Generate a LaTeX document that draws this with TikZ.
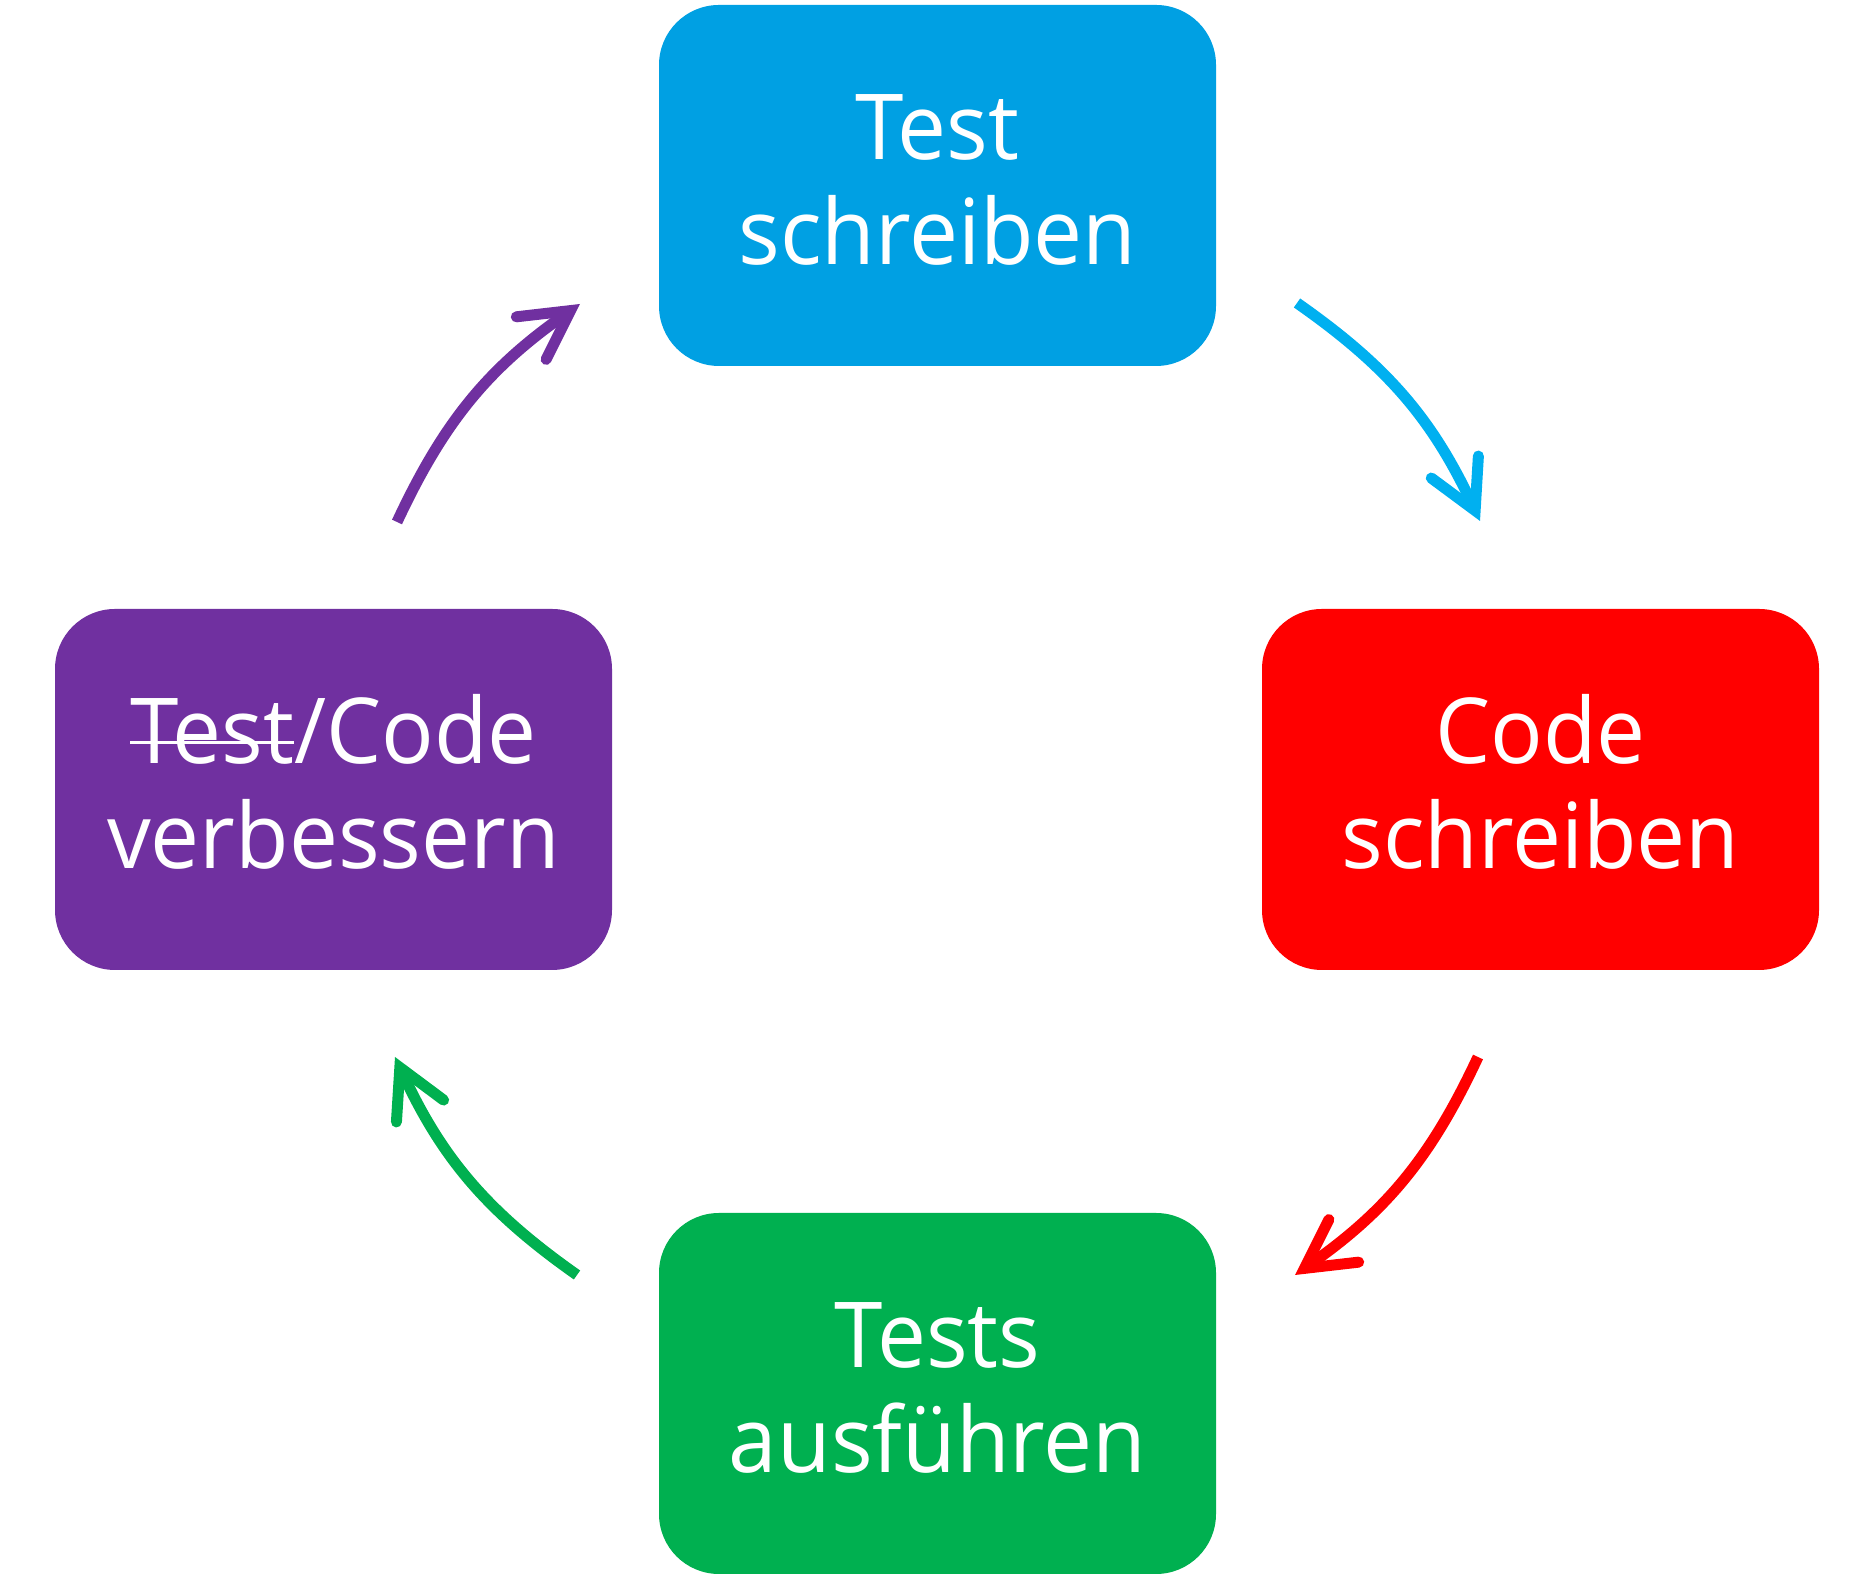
\documentclass[tikz,border=0pt]{standalone}
\usepackage{fontspec}
\setmainfont[FakeStretch=0.96]{Open Sans}
\usetikzlibrary{arrows.meta}
\definecolor{cblue}{HTML}{00A0E3}
\definecolor{carrowblue}{HTML}{00B0F0}
\definecolor{cred}{HTML}{FF0000}
\definecolor{cgreen}{HTML}{00B050}
\definecolor{cpurple}{HTML}{7030A0}
\newlength\stkw
\newcommand\strikeword[1]{\settowidth\stkw{#1}\rlap{\rule[10pt]{\stkw}{1.5pt}}#1}
\begin{document}
\begin{tikzpicture}[x=0.5pt,y=0.5pt,
  stage/.style={rounded corners=30pt, minimum width=278.5pt, minimum height=180.5pt,
    inner sep=0pt, text=white, align=center,
    font=\fontsize{45.5pt}{52.5pt}\selectfont, text height=79.5pt, text depth=0pt},
  cyc/.style={line width=5.5pt,
    -{Straight Barb[length=24pt, width=26pt, line cap=round, line join=miter]},
    bend left=15}]
\useasboundingbox (0,0) rectangle (1875,1579);
\node[stage, fill=cblue] (ts) at (937.5,1393.5) {Test\\schreiben};
\node[stage, fill=cred] (cs) at (1540.5,789.5) {Code\\schreiben};
\node[stage, fill=cgreen] (ta) at (937.5,185.5) {Tests\\ausführen};
\node[stage, fill=cpurple] (tv) at (333.5,789.5) {\strikeword{Test}/Code\\verbessern};
\coordinate (b1) at (1297,1276); \coordinate (b2) at (1480,1058);
\coordinate (r1) at (1478,522);  \coordinate (r2) at (1295,304);
\coordinate (g1) at (577,304);   \coordinate (g2) at (395,522);
\coordinate (p1) at (397,1057);  \coordinate (p2) at (580,1275);
\draw[cyc, carrowblue] (b1) to (b2);
\draw[cyc, cred] (r1) to (r2);
\draw[cyc, cgreen] (g1) to (g2);
\draw[cyc, cpurple] (p1) to (p2);
\end{tikzpicture}
\end{document}
